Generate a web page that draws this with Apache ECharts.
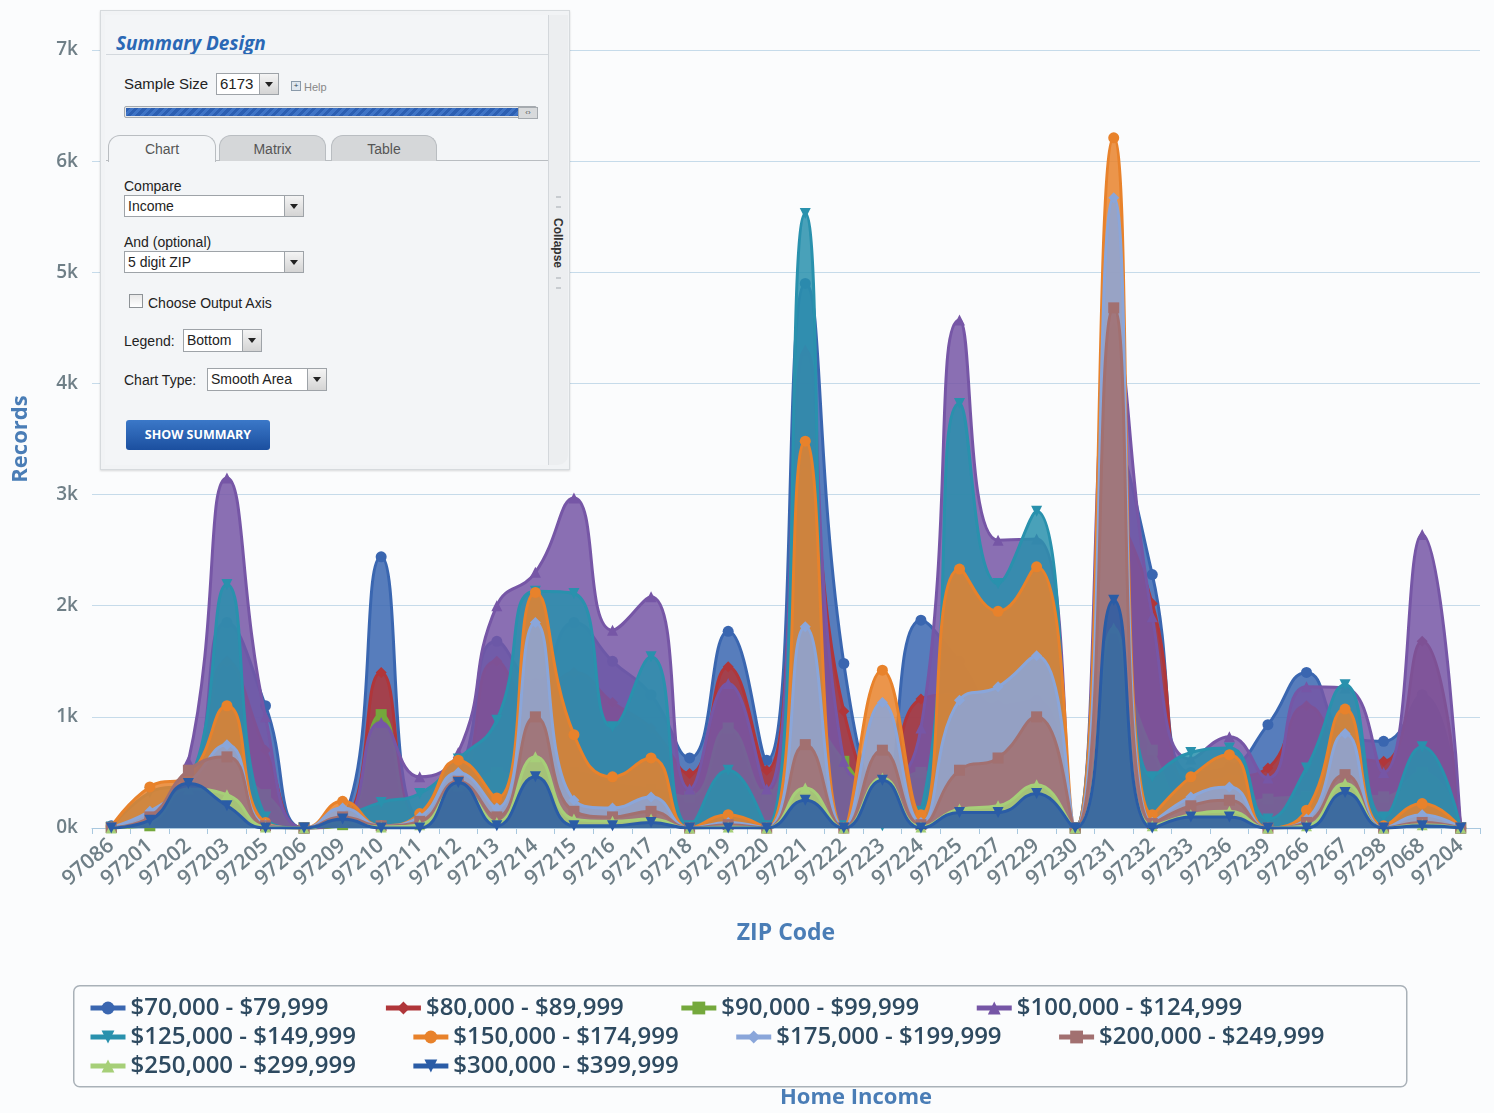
<!DOCTYPE html>
<html>
<head>
<meta charset="utf-8">
<script src="https://cdn.jsdelivr.net/npm/echarts@6/dist/echarts.min.js"></script>
<style>
  html, body { margin: 0; padding: 0; background: #fbfcfd; }
  #chart { position: absolute; left: 0; top: 0; width: 1494px; height: 1113px; }
  .abs { position: absolute; }
  #panel { left: 100px; top: 10px; width: 468px; height: 458px; background: #f1f3f5; border: 1px solid #d6dadd; box-shadow: 0 1px 2px rgba(0,0,0,0.15); font-family: "Liberation Sans", Arial, sans-serif; color: #222; }
  #panel .t { position: absolute; font-size: 15px; white-space: nowrap; line-height: 18px; }
  .sel { position: absolute; background: #fff; border: 1px solid #9ea3a8; box-sizing: border-box; font-size: 15px; line-height: 20px; padding-left: 3px; white-space: nowrap; overflow: hidden; }
  .sel .btn { position: absolute; right: 0; top: 0; bottom: 0; width: 18px; background: linear-gradient(#f4f4f4, #d4d4d4); border-left: 1px solid #9ea3a8; }
  .sel .btn:after { content: ""; position: absolute; left: 5px; top: 8px; border-left: 4px solid transparent; border-right: 4px solid transparent; border-top: 5px solid #222; }
  .tab { position: absolute; top: 124px; height: 26px; border: 1px solid #b9bdc1; border-bottom: none; border-radius: 12px 12px 0 0; text-align: center; font-size: 14px; line-height: 26px; color: #555; box-sizing: border-box; }
</style>
</head>
<body>
<div id="chart"></div>

<div id="panel" class="abs">
  <div class="abs" style="left:4px;top:4px;width:443px;height:450px;background:#f3f5f7;border-right:1px solid #d3d7db;"></div>
  <div class="t" style="left:15px;top:21px;font-family:'Open Sans',sans-serif;font-weight:700;font-style:italic;font-size:19px;line-height:22px;color:#2a68b5;">Summary Design</div>
  <div class="abs" style="left:5px;top:43px;width:442px;height:1px;background:#d3d8dd;"></div>
  <div class="t" style="left:23px;top:64px;">Sample Size</div>
  <div class="sel" style="left:115px;top:62px;width:63px;height:22px;">6173<div class="btn"></div></div>
  <div class="abs" style="left:190px;top:70px;width:8px;height:8px;border:1px solid #8a9aaa;background:#dfe7ef;font-size:8px;line-height:8px;text-align:center;color:#345;">+</div>
  <div class="t" style="left:203px;top:67px;font-size:11px;color:#888;">Help</div>
  <div class="abs" style="left:23px;top:95px;width:413px;height:12px;border:1px solid #a5aaaf;background:#e6e8ea;box-sizing:border-box;border-radius:2px;"></div>
  <div class="abs" style="left:25px;top:97px;width:392px;height:8px;background:repeating-linear-gradient(135deg,#2c5fb2 0 3px,#3f74c6 3px 6px);"></div>
  <div class="abs" style="left:417px;top:96px;width:18px;height:10px;background:#d8dadc;border:1px solid #a5aaaf;font-size:8px;line-height:9px;text-align:center;color:#555;">&#8249;&#8250;</div>
  <div class="abs" style="left:5px;top:149px;width:442px;height:1px;background:#b9bdc1;"></div>
  <div class="tab" style="left:7px;width:108px;background:#f3f5f7;height:27px;">Chart</div>
  <div class="tab" style="left:118px;width:107px;background:#d5d7d9;">Matrix</div>
  <div class="tab" style="left:230px;width:106px;background:#d5d7d9;">Table</div>
  <div class="t" style="left:23px;top:166px;font-size:14px;">Compare</div>
  <div class="sel" style="left:23px;top:184px;width:180px;height:22px;font-size:14px;">Income<div class="btn"></div></div>
  <div class="t" style="left:23px;top:222px;font-size:14px;">And (optional)</div>
  <div class="sel" style="left:23px;top:240px;width:180px;height:22px;font-size:14px;">5 digit ZIP<div class="btn"></div></div>
  <div class="abs" style="left:28px;top:283px;width:12px;height:12px;border:1px solid #8d9296;background:linear-gradient(#e8e8e8,#fff);"></div>
  <div class="t" style="left:47px;top:283px;font-size:14px;">Choose Output Axis</div>
  <div class="t" style="left:23px;top:321px;font-size:14px;">Legend:</div>
  <div class="sel" style="left:82px;top:318px;width:79px;height:23px;font-size:14px;">Bottom<div class="btn"></div></div>
  <div class="t" style="left:23px;top:360px;font-size:14px;">Chart Type:</div>
  <div class="sel" style="left:106px;top:357px;width:120px;height:23px;font-size:14px;">Smooth Area<div class="btn"></div></div>
  <div class="abs" style="left:25px;top:409px;width:144px;height:30px;border-radius:3px;background:linear-gradient(#3b78c8,#1b4f9f);color:#fff;font-family:'Open Sans',sans-serif;font-weight:700;font-size:12.5px;line-height:30px;text-align:center;">SHOW SUMMARY</div>
  <div class="abs" style="left:448px;top:4px;width:19px;height:450px;background:#eceef0;border-radius:0 0 10px 0;"></div>
  <div class="abs" style="left:455px;top:185px;width:5px;height:8px;border-top:2px solid #c8ccd0;border-bottom:2px solid #c8ccd0;"></div>
  <div class="abs" style="left:432px;top:225px;width:50px;height:14px;transform:rotate(90deg);transform-origin:25px 7px;font-family:'Liberation Sans',sans-serif;font-weight:700;font-size:12px;line-height:14px;text-align:center;color:#333;">Collapse</div>
  <div class="abs" style="left:455px;top:266px;width:5px;height:8px;border-top:2px solid #c8ccd0;border-bottom:2px solid #c8ccd0;"></div>
</div>

<script>
// ---- data ----
const zipCodes = ['97086','97201','97202','97203','97205','97206','97209','97210','97211','97212','97213','97214','97215','97216','97217','97218','97219','97220','97221','97222','97223','97224','97225','97227','97229','97230','97231','97232','97233','97236','97239','97266','97267','97298','97068','97204'];
const yTicks = [0, 1000, 2000, 3000, 4000, 5000, 6000, 7000];

const inc70  = [20, 60, 250, 1850, 1100, 0, 80, 2440, 100, 450, 1680, 1300, 1850, 1500, 1200, 630, 1770, 610, 4900, 1480, 250, 1870, 1500, 1100, 1150, 0, 3500, 2280, 500, 550, 930, 1400, 850, 780, 1200, 0];
const inc80  = [10, 30, 150, 1500, 700, 0, 50, 1400, 80, 300, 1500, 1100, 1400, 1130, 900, 490, 1450, 520, 3200, 1050, 300, 1160, 1200, 900, 800, 0, 2800, 2020, 400, 450, 540, 1100, 700, 600, 1680, 0];
const inc90  = [5, 20, 80, 500, 300, 0, 30, 1020, 50, 150, 500, 400, 500, 400, 350, 280, 900, 300, 1000, 600, 250, 500, 400, 350, 350, 0, 1500, 700, 200, 200, 260, 280, 300, 280, 500, 0];
const inc100 = [10, 80, 600, 3150, 1000, 0, 50, 950, 460, 680, 2000, 2300, 2970, 1780, 2080, 350, 1300, 350, 4300, 600, 400, 900, 4570, 2590, 2600, 0, 4500, 1900, 620, 820, 450, 1270, 1260, 500, 2640, 0];
const inc125 = [10, 320, 420, 2190, 100, 0, 100, 230, 310, 620, 970, 2130, 2110, 910, 1540, 20, 520, 20, 5530, 20, 20, 150, 3820, 2200, 2850, 0, 4000, 460, 680, 720, 80, 540, 1290, 100, 730, 0];
const inc150 = [10, 370, 470, 1100, 50, 0, 240, 20, 130, 610, 270, 2120, 840, 460, 630, 0, 120, 0, 3480, 0, 1420, 120, 2330, 1950, 2350, 0, 6210, 120, 460, 660, 0, 160, 1070, 20, 220, 0];
const inc175 = [5, 150, 400, 750, 30, 0, 180, 20, 100, 500, 180, 1850, 250, 180, 280, 0, 50, 0, 1810, 0, 1130, 50, 1150, 1270, 1550, 0, 5670, 50, 280, 370, 0, 80, 850, 0, 120, 0];
const inc200 = [5, 100, 520, 640, 20, 0, 100, 20, 60, 420, 100, 1000, 150, 100, 150, 0, 30, 0, 750, 0, 700, 30, 520, 630, 1000, 0, 4680, 40, 200, 250, 0, 50, 480, 0, 50, 0];
const inc250 = [0, 50, 350, 300, 10, 0, 50, 10, 30, 380, 50, 640, 80, 60, 80, 0, 10, 0, 360, 0, 450, 10, 170, 200, 390, 0, 1800, 20, 120, 150, 0, 20, 400, 0, 30, 0];
const inc300 = [0, 70, 400, 200, 0, 0, 80, 0, 0, 410, 20, 460, 20, 20, 50, 0, 0, 0, 250, 0, 430, 0, 140, 140, 310, 0, 2050, 0, 100, 100, 0, 0, 320, 0, 20, 0];

const seriesNames = ['$70,000 - $79,999','$80,000 - $89,999','$90,000 - $99,999','$100,000 - $124,999','$125,000 - $149,999','$150,000 - $174,999','$175,000 - $199,999','$200,000 - $249,999','$250,000 - $299,999','$300,000 - $399,999'];
const seriesData = [inc70, inc80, inc90, inc100, inc125, inc150, inc175, inc200, inc250, inc300];

// ---- styles ----
const colors = ['#3a66b0','#b0363a','#74a83c','#7656a6','#2991ad','#e8822b','#8aa6da','#a27070','#a6cf78','#2a5ca6'];
const triDown = 'path://M0,0L10,0L5,9Z';
const symbols = ['circle','diamond','rect','triangle', triDown, 'circle','diamond','rect','triangle', triDown];

const chart = echarts.init(document.getElementById('chart'), null, {renderer: 'canvas'});

const series = seriesNames.map((name, i) => ({
  type: 'line',
  name: name,
  data: seriesData[i],
  z: 2 + i,
  smooth: 0.5,
  symbol: symbols[i],
  symbolSize: 11,
  showSymbol: true,
  showAllSymbol: true,
  lineStyle: { width: 3, color: colors[i] },
  itemStyle: { color: colors[i] },
  areaStyle: { color: colors[i], opacity: 0.85 },
  emphasis: { disabled: true }
}));

const legendText = { fontFamily: 'Open Sans', fontWeight: 600, fontSize: 24, color: '#2e4a60' };
const legendBase = { orient: 'horizontal', left: 88, padding: 0, itemGap: 55, itemWidth: 35, itemHeight: 16,
  lineStyle: { width: 5 }, textStyle: legendText, selectedMode: true };

chart.setOption({
  backgroundColor: '#fbfcfd',
  animation: false,
  grid: { left: 92, right: 14, top: 50, bottom: 285, containLabel: false },
  xAxis: {
    type: 'category',
    data: zipCodes,
    boundaryGap: true,
    name: 'ZIP Code',
    nameLocation: 'middle',
    nameGap: 94,
    nameTextStyle: { fontFamily: 'Open Sans', fontWeight: 700, fontSize: 23, color: '#4a7db6' },
    axisLine: { lineStyle: { color: '#a9c8df', width: 1 } },
    axisTick: { show: true, length: 6, lineStyle: { color: '#a9c8df' } },
    axisLabel: { interval: 0, rotate: 40, margin: 15, fontFamily: 'Open Sans', fontWeight: 600, fontSize: 21, color: '#6f7f87' },
    splitLine: { show: false }
  },
  yAxis: {
    type: 'value',
    min: yTicks[0],
    max: yTicks[yTicks.length - 1],
    interval: 1000,
    name: 'Records',
    nameLocation: 'middle',
    nameGap: 60,
    nameRotate: 90,
    nameTextStyle: { fontFamily: 'Open Sans', fontWeight: 700, fontSize: 22, color: '#4a7db6' },
    axisLine: { show: false },
    axisTick: { show: false },
    axisLabel: { margin: 14, fontFamily: 'Open Sans', fontWeight: 600, fontSize: 19, color: '#6f7f87',
      formatter: v => (v / 1000) + 'k' },
    splitLine: { lineStyle: { color: '#c6dbea', width: 1 } }
  },
  legend: [
    Object.assign({}, legendBase, { top: 996, data: seriesNames.slice(0, 4) }),
    Object.assign({}, legendBase, { top: 1025, data: seriesNames.slice(4, 8) }),
    Object.assign({}, legendBase, { top: 1054, data: seriesNames.slice(8, 10) })
  ],
  graphic: [
    { type: 'rect', left: 73, top: 985, shape: { width: 1333, height: 101, r: 6 },
      style: { fill: 'rgba(255,255,255,0)', stroke: '#a9b1b8', lineWidth: 1.5 }, z: -1 },
    { type: 'text', left: 780, top: 1087, style: { text: 'Home Income', fontFamily: 'Open Sans', fontWeight: 700, fontSize: 22, fill: '#4a7db6' } }
  ],
  series: series
});
</script>
</body>
</html>
